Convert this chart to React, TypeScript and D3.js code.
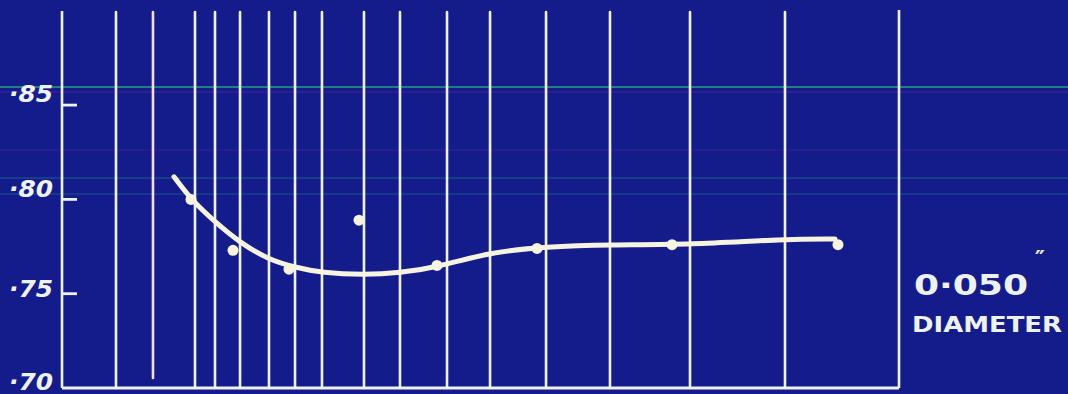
import React from "react";
import * as d3 from "d3";

// Chart frame
const W = 1068;
const H = 394;

// Vertical rulings across the plotting field (abscissa in percent of span)
const gridX = [6.45, 10.87, 15.89, 18.28, 21.27, 24.73, 27.84, 31.06, 36.08, 40.38, 46.0, 51.14, 57.83, 65.47, 75.03, 86.38];

// Ordinate ticks
const yTicks = [0.7, 0.75, 0.8, 0.85];
const yTickLabels = ["·70", "·75", "·80", "·85"];

// Faired curve through the observations
const curveX = [13.38, 15.41, 18.28, 21.27, 24.73, 27.84, 31.06, 36.08, 40.38, 44.8, 51.14, 57.83, 65.47, 75.03, 86.38, 92.35];
const curveY = [0.812, 0.8, 0.788, 0.777, 0.768, 0.764, 0.761, 0.76, 0.761, 0.764, 0.772, 0.775, 0.776, 0.776, 0.779, 0.779];

// Observed points
const obsX = [15.41, 20.43, 27.12, 35.48, 44.8, 56.75, 72.88, 92.71];
const obsY = [0.8, 0.773, 0.763, 0.789, 0.765, 0.774, 0.776, 0.776];

const diameterLabel = "0·050";
const captionLabel = "DIAMETER";

const BG = "#141c8c";
const INK = "#eef2ee";
const CURVE = "#f6f3e0";

export default function App() {
  const left = 62;
  const right = 899;
  const top = 11;
  const bottom = 388;

  const x = d3.scaleLinear().domain([0, 100]).range([left, right]);
  const y = d3.scaleLinear().domain([0.7, 0.85]).range([bottom, bottom - 3 * 94.3]);

  const curvePts: [number, number][] = curveX.map((v, i) => [v, curveY[i]]);
  const line = d3
    .line<[number, number]>()
    .x((d) => x(d[0]))
    .y((d) => y(d[1]))
    .curve(d3.curveBasis);

  const font = "'DejaVu Sans', 'Open Sans', sans-serif";
  const labelShift = [2, 3, -2, -3];

  return (
    <svg
      width={W}
      height={H}
      style={{ position: "absolute", left: 0, top: 0, display: "block" }}
    >
      <rect x={0} y={0} width={W} height={H} fill={BG} />
      {/* faint ruling streaks across the sheet */}
      <line x1={0} x2={W} y1={87} y2={87} stroke="#22a27a" strokeWidth={1.6} />
      <line x1={0} x2={W} y1={92} y2={92} stroke="#6a2a8a" strokeWidth={1} opacity={0.6} />
      <line x1={0} x2={W} y1={150} y2={150} stroke="#6a2a8a" strokeWidth={1} opacity={0.4} />
      <line x1={0} x2={W} y1={178} y2={178} stroke="#1f8a8a" strokeWidth={1} opacity={0.6} />
      <line x1={0} x2={W} y1={194} y2={194} stroke="#1f8a8a" strokeWidth={1} opacity={0.5} />

      {/* vertical rulings */}
      {gridX.map((g, i) => (
        <line
          key={i}
          x1={x(g)}
          x2={x(g)}
          y1={top + 1}
          y2={i === 1 ? 378 : bottom}
          stroke={i === 1 ? "#f2dcea" : INK}
          strokeWidth={2.6}
          strokeLinecap="round"
        />
      ))}

      {/* frame: left axis, right edge, baseline */}
      <line x1={left} x2={left} y1={top} y2={bottom} stroke={INK} strokeWidth={2.6} />
      <line x1={right} x2={right} y1={top - 1} y2={bottom} stroke={INK} strokeWidth={2.6} />
      <line x1={left} x2={right} y1={bottom} y2={bottom} stroke={INK} strokeWidth={2.8} />

      {/* y ticks and labels */}
      {yTicks.map((t, i) => (
        <g key={t}>
          {i > 0 && (
            <line x1={left} x2={left + 15} y1={y(t)} y2={y(t)} stroke={INK} strokeWidth={2.8} />
          )}
          <text
            x={9}
            y={y(t) + labelShift[i]}
            fill={INK}
            fontFamily={font}
            fontSize={23}
            fontWeight={600}
            fontStyle="italic"
            textLength={44}
            lengthAdjust="spacingAndGlyphs"
          >
            {yTickLabels[i]}
          </text>
        </g>
      ))}

      {/* faired curve */}
      <path
        d={line(curvePts) || ""}
        fill="none"
        stroke={CURVE}
        strokeWidth={5}
        strokeLinecap="round"
        strokeLinejoin="round"
      />

      {/* observations */}
      {obsX.map((v, i) => (
        <circle key={i} cx={x(v)} cy={y(obsY[i])} r={5.5} fill={CURVE} />
      ))}

      {/* diameter caption */}
      <text
        x={914}
        y={295}
        fill={INK}
        fontFamily={font}
        fontSize={28}
        fontWeight={600}
        textLength={114}
        lengthAdjust="spacingAndGlyphs"
      >
        {diameterLabel}
      </text>
      <text x={1035} y={266} fill={INK} fontFamily={font} fontSize={22} fontWeight={600}>
        ″
      </text>
      <text
        x={912}
        y={332}
        fill={INK}
        fontFamily={font}
        fontSize={22}
        fontWeight={600}
        textLength={150}
        lengthAdjust="spacingAndGlyphs"
      >
        {captionLabel}
      </text>
    </svg>
  );
}
